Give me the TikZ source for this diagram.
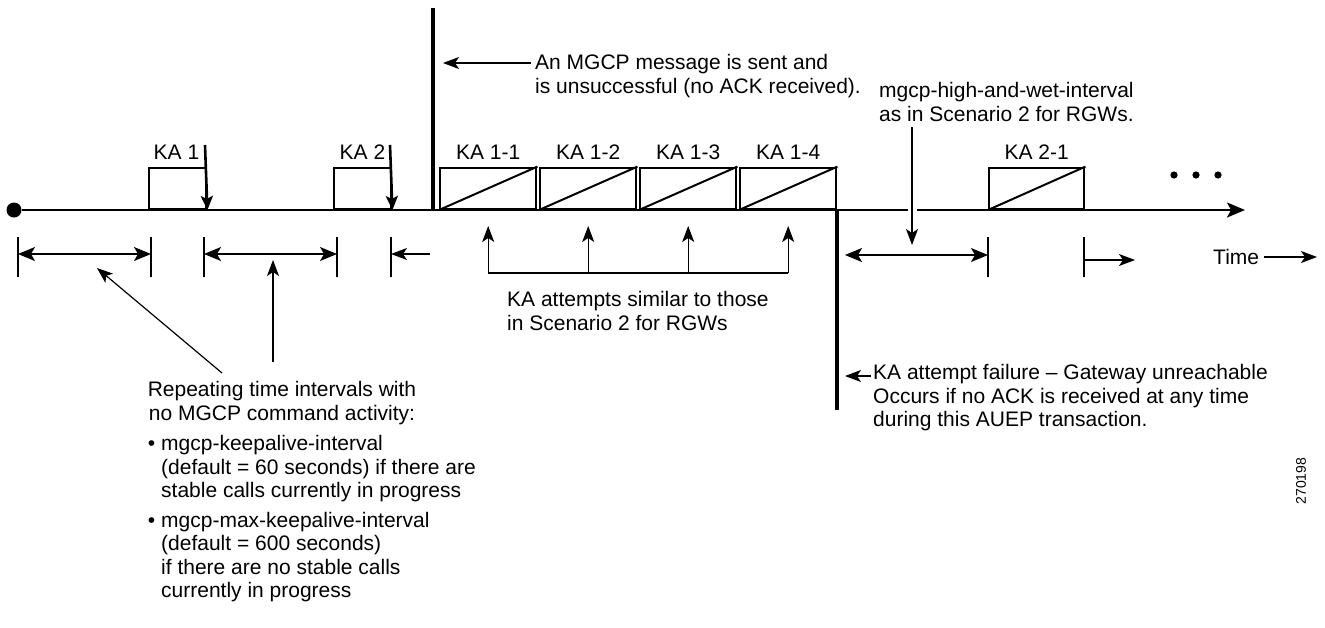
\documentclass[tikz,border=0pt]{standalone}
\usepackage{fontspec}
\setmainfont{Liberation Sans}
\usetikzlibrary{arrows.meta}
\begin{document}
\begin{tikzpicture}[x=1pt,y=-1pt,
    lbl/.style={inner sep=0pt,font=\fontsize{21}{23.5}\selectfont},
    kabox/.style={draw,line width=2.4pt,inner sep=0pt,minimum height=41pt,anchor=south west},
    slash/.style={line width=2pt},
    wall/.style={line width=4.8pt},
    tickline/.style={line width=1.2pt},
    pointer/.style={line width=1.2pt,-{Stealth[length=16pt,width=12pt,inset=4pt]}},
    intv/.style={line width=1.2pt,{Stealth[length=17pt,width=14pt,inset=4pt]}-{Stealth[length=17pt,width=14pt,inset=4pt]}},
    kadrop/.style={line width=2.6pt,-{Stealth[length=14pt,width=12pt,inset=3pt]}}]
    \useasboundingbox (0,0) rectangle (1325,627);

    \node[fill,circle,inner sep=0pt,minimum size=15pt] (start) at (14,210) {};
    \coordinate (tend) at (1245,210);
    \draw[line width=2pt,-{Stealth[length=18pt,width=15pt,inset=4pt]}] (start) -- (tend);

    \node[kabox,minimum width=57pt] (ka1) at (148,210) {};
    \node[kabox,minimum width=57pt] (ka2) at (333,210) {};
    \node[lbl,anchor=base east] at ([xshift=-8pt,yshift=7pt]ka1.north east) {KA 1};
    \node[lbl,anchor=base east] at ([xshift=-7pt,yshift=7pt]ka2.north east) {KA 2};
    \coordinate (ka1top) at (205,145);
    \coordinate (ka2top) at (390,145);
    \draw[kadrop] (ka1top) -- (ka1.south east);
    \draw[kadrop] (ka2top) -- (ka2.south east);

    \foreach \i/\x in {1/439,2/539,3/639,4/739} {
        \node[kabox,minimum width=96pt] (ka1\i) at (\x,210) {};
        \draw[slash] (ka1\i.south west) -- (ka1\i.north east);
        \node[lbl,anchor=base] at ([yshift=7pt]ka1\i.north) {KA 1-\i};
    }
    \node[kabox,minimum width=95pt] (ka21) at (988,210) {};
    \draw[slash] (ka21.south west) -- (ka21.north east);
    \node[lbl,anchor=base] at ([yshift=7pt]ka21.north) {KA 2-1};

    \foreach \x in {1174,1196,1218} \fill (\x,175) circle (3.6pt);

    \coordinate (w1t) at (433,8);
    \coordinate (w1b) at (433,211);
    \coordinate (w2t) at (837,209);
    \coordinate (w2b) at (837,410);
    \draw[wall] (w1t) -- (w1b);
    \draw[wall] (w2t) -- (w2b);

    \node[lbl,anchor=west,align=left] (msg) at (535,76) {An MGCP message is sent and\\is unsuccessful (no ACK received).};
    \coordinate (msgtail) at (531,63);
    \coordinate (msgtip) at (443,63);
    \draw[pointer] (msgtail) -- (msgtip);

    \node[lbl,anchor=west,align=left] (hw) at (879,102) {mgcp-high-and-wet-interval\\as in Scenario 2 for RGWs.};
    \coordinate (hwtail) at (912,127);
    \coordinate (hwtip) at (912,245);
    \draw[white,line width=9pt] ([yshift=6pt]hwtail |- start) -- ([yshift=-6pt]hwtail |- start);
    \draw[pointer] (hwtail) -- (hwtip);

    \node[lbl,anchor=west,align=left] (fail) at (873,398) {KA attempt failure -- Gateway unreachable\\Occurs if no ACK is received at any time\\during this AUEP transaction.};
    \coordinate (failtail) at (871,376);
    \coordinate (failtip) at (845,376);
    \draw[pointer] (failtail) -- (failtip);

    \coordinate (brk) at (0,273);
    \draw[tickline] (ka11.south |- brk) -- (ka14.south |- brk);
    \foreach \i in {1,2,3,4}
        \draw[pointer,shorten >=16pt] (ka1\i.south |- brk) -- (ka1\i.south);
    \node[lbl,anchor=west,align=left] (similar) at (507,311) {KA attempts similar to those\\in Scenario 2 for RGWs};

    \foreach \n/\x in {a/18,b/151,c/204,d/337,e/391,f/988,g/1084} {
        \draw[tickline] (\x,237) -- (\x,277);
        \coordinate (m\n) at (\x,254);
    }
    \coordinate (stubl) at (430,254);
    \coordinate (hwl) at (845,255);
    \coordinate (mf2) at (988,255);
    \coordinate (stubr) at (1084,260);
    \coordinate (stubrtip) at (1135,260);
    \draw[intv] (ma) -- (mb);
    \draw[intv] (mc) -- (md);
    \draw[pointer] (stubl) -- (me);
    \draw[intv] (hwl) -- (mf2);
    \draw[pointer] (stubr) -- (stubrtip);

    \node[lbl,anchor=west] (time) at (1213,257) {Time};
    \coordinate (timetip) at (1317,257);
    \draw[pointer] ([xshift=5pt]time.east) -- (timetip);

    \node[lbl,align=center] (rep) at (282,403) {Repeating time intervals with\\no MGCP command activity:};
    \coordinate (repa) at (222,373);
    \coordinate (repb) at (97,268);
    \coordinate (repc) at (273,362);
    \coordinate (repd) at (273,260);
    \draw[pointer] (repa) -- (repb);
    \draw[pointer] (repc) -- (repd);

    \node[lbl,anchor=west,align=left] (keep) at (161,469) {\llap{\textbullet\hspace{6pt}}mgcp-keepalive-interval\\(default = 60 seconds) if there are\\stable calls currently in progress};
    \node[lbl,anchor=west,align=left] (maxkeep) at (161,557) {\llap{\textbullet\hspace{6pt}}mgcp-max-keepalive-interval\\(default = 600 seconds)\\if there are no stable calls\\currently in progress};

    \node[lbl,rotate=90,font=\fontsize{14}{16}\selectfont] (figid) at (1301,481) {270198};
\end{tikzpicture}
\end{document}
